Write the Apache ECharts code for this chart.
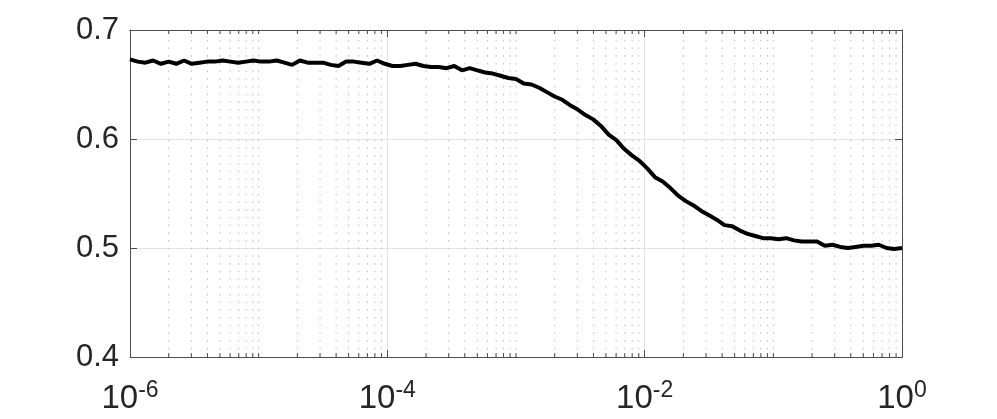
<!DOCTYPE html>
<html>
<head>
<meta charset="utf-8">
<script src="https://cdn.jsdelivr.net/npm/echarts@6/dist/echarts.min.js"></script>
<style>
  html, body { margin: 0; padding: 0; background: #fff; }
  #chart { width: 997px; height: 419px; }
</style>
</head>
<body>
<div id="chart"></div>
<script>
// x samples are log-spaced: 10^(xStartExp + i * xStepExp)
const xStartExp = -6;
const xStepExp = 0.06;
const yValues = [
  0.673, 0.671, 0.670, 0.672, 0.669, 0.671, 0.669, 0.672, 0.669, 0.670,
  0.671, 0.671, 0.672, 0.671, 0.670, 0.671, 0.672, 0.671, 0.671, 0.672,
  0.670, 0.668, 0.672, 0.670, 0.670, 0.670, 0.668, 0.667, 0.671, 0.671,
  0.670, 0.669, 0.672, 0.669, 0.667, 0.667, 0.668, 0.669, 0.667, 0.666,
  0.666, 0.665, 0.667, 0.663, 0.665, 0.663, 0.661, 0.660, 0.658, 0.656,
  0.655, 0.651, 0.650, 0.647, 0.643, 0.639, 0.636, 0.631, 0.627, 0.622,
  0.618, 0.612, 0.604, 0.599, 0.591, 0.585, 0.580, 0.573, 0.565, 0.561,
  0.555, 0.548, 0.543, 0.539, 0.534, 0.530, 0.526, 0.521, 0.520, 0.516,
  0.513, 0.511, 0.509, 0.509, 0.508, 0.509, 0.507, 0.506, 0.506, 0.506,
  0.502, 0.503, 0.501, 0.500, 0.501, 0.502, 0.502, 0.503, 0.500, 0.499,
  0.500
];
const yTicks = [0.4, 0.5, 0.6, 0.7];
const xMin = 1e-6;
const xMax = 1;
const minorDecades = [-6, -5, -4, -3, -2, -1];
const minorMultipliers = [2, 3, 4, 5, 6, 7, 8, 9];

const FONT = '"Liberation Sans", Arial, Helvetica, sans-serif';
const TEXT = '#262626';
const AXIS = '#4d4d4d';

const lineData = yValues.map((v, i) => [Math.pow(10, xStartExp + i * xStepExp), v]);

// minor positions: 2..9 of every decade plus the odd decades (MATLAB puts them on the minor grid)
const minorTicks = [];
minorDecades.forEach(d => {
  if (d % 2 !== 0) minorTicks.push([Math.pow(10, d), yTicks[0]]);
  minorMultipliers.forEach(m => minorTicks.push([m * Math.pow(10, d), yTicks[0]]));
});

const yMin = yTicks[0];
const yMax = yTicks[yTicks.length - 1];

function renderMinor(params, api) {
  const x = api.value(0);
  const top = api.coord([x, yMax]);
  const bot = api.coord([x, yMin]);
  const tick = 4;
  return {
    type: 'group',
    children: [
      {
        type: 'line',
        shape: { x1: bot[0], y1: bot[1], x2: top[0], y2: top[1] },
        style: { stroke: '#bcbcbc', lineWidth: 1, lineDash: [1.5, 6.2] }
      },
      {
        type: 'line',
        shape: { x1: bot[0], y1: bot[1], x2: bot[0], y2: bot[1] - tick },
        style: { stroke: AXIS, lineWidth: 1 }
      },
      {
        type: 'line',
        shape: { x1: top[0], y1: top[1], x2: top[0], y2: top[1] + tick },
        style: { stroke: AXIS, lineWidth: 1 }
      }
    ]
  };
}

const chart = echarts.init(document.getElementById('chart'), null, { renderer: 'canvas' });

const xCommon = {
  type: 'log',
  logBase: 10,
  min: xMin,
  max: xMax,
  interval: 2,
  axisLine: { show: true, onZero: false, lineStyle: { color: AXIS, width: 1 } },
  axisTick: { show: true, inside: true, length: 7, lineStyle: { color: AXIS } },
  minorTick: { show: false },
  minorSplitLine: { show: false }
};

const yCommon = {
  type: 'value',
  min: yMin,
  max: yMax,
  interval: 0.1,
  axisLine: { show: true, onZero: false, lineStyle: { color: AXIS, width: 1 } },
  axisTick: { show: true, inside: true, length: 7, lineStyle: { color: AXIS } }
};

chart.setOption({
  animation: false,
  backgroundColor: '#fff',
  grid: { left: 130, right: 95, top: 30, bottom: 62, containLabel: false, outerBoundsMode: 'none' },
  xAxis: [
    Object.assign({}, xCommon, {
      position: 'bottom',
      axisLabel: {
        show: true,
        margin: 22,
        formatter: v => '{b|10}{s|' + Math.round(Math.log10(v)) + '}',
        rich: {
          b: { fontFamily: FONT, fontSize: 33, color: TEXT, lineHeight: 40 },
          s: { fontFamily: FONT, fontSize: 23, color: TEXT, lineHeight: 18, verticalAlign: 'top' }
        }
      },
      splitLine: { show: true, lineStyle: { color: '#e3e3e3', width: 1 } }
    }),
    Object.assign({}, xCommon, {
      position: 'top',
      axisLabel: { show: false },
      splitLine: { show: false }
    })
  ],
  yAxis: [
    Object.assign({}, yCommon, {
      position: 'left',
      axisLabel: {
        show: true,
        margin: 11,
        fontFamily: FONT,
        fontSize: 31,
        color: TEXT,
        formatter: v => v.toFixed(1)
      },
      splitLine: { show: true, lineStyle: { color: '#e3e3e3', width: 1 } }
    }),
    Object.assign({}, yCommon, {
      position: 'right',
      axisLabel: { show: false },
      splitLine: { show: false }
    })
  ],
  series: [
    {
      type: 'custom',
      xAxisIndex: 0,
      yAxisIndex: 0,
      silent: true,
      z: 1,
      renderItem: renderMinor,
      data: minorTicks
    },
    {
      type: 'line',
      xAxisIndex: 0,
      yAxisIndex: 0,
      z: 5,
      data: lineData,
      showSymbol: false,
      symbol: 'none',
      lineStyle: { color: '#000', width: 4 },
      itemStyle: { color: '#000' }
    }
  ]
});
</script>
</body>
</html>
